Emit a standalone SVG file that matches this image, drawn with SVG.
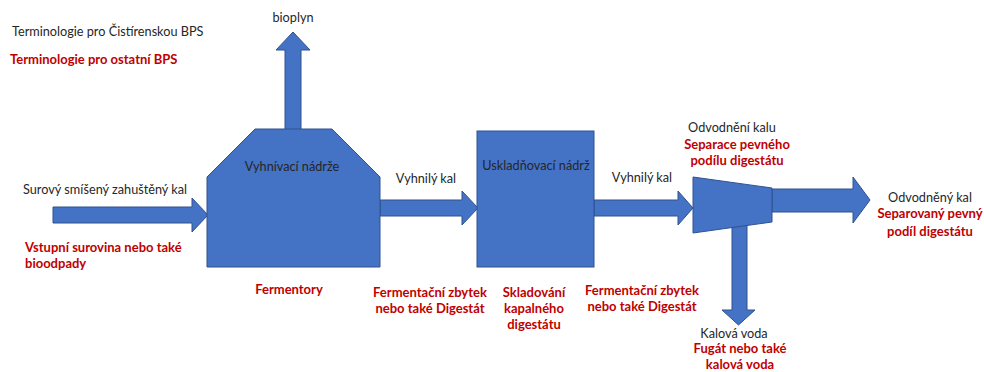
<svg xmlns="http://www.w3.org/2000/svg" width="984" height="372" viewBox="0 0 984 372">
<style>
.shape{fill:#4472C4;stroke:#2F528F;stroke-width:1}
.t{font-family:Lato,"Liberation Sans",sans-serif;font-size:12.7px;fill:#262626}
.r{font-family:Lato,"Liberation Sans",sans-serif;font-size:13px;font-weight:bold;fill:#C00000}
.m{text-anchor:middle}
</style>
<rect width="984" height="372" fill="#ffffff"/>
<g id="legend">
<text class="t" x="12" y="36">Terminologie pro Čistírenskou BPS</text>
<text class="r" x="10" y="64">Terminologie pro ostatní BPS</text>
</g>
<g id="connectors">
<g id="arrow-biogas">
<polygon class="shape" points="285,131 285,50 276,50 293,32 310,50 301,50 301,131"/>
<text class="t m" x="293" y="22">bioplyn</text>
</g>
<g id="arrow-input">
<polygon class="shape" points="53,207 192,207 192,198 208,215 192,232 192,223 53,223"/>
<text class="t" x="23" y="194">Surový smíšený zahuštěný kal</text>
<text class="r" x="25" y="252">Vstupní surovina nebo také</text>
<text class="r" x="25" y="268">bioodpady</text>
</g>
<g id="arrow-digested1">
<polygon class="shape" points="380,200 462,200 462,191 478,208 462,225 462,216 380,216"/>
<text class="t m" x="426" y="183">Vyhnilý kal</text>
<text class="r m" x="430" y="297">Fermentační zbytek</text>
<text class="r m" x="430" y="313">nebo také Digestát</text>
</g>
<g id="arrow-digested2">
<polygon class="shape" points="594,200 678,200 678,191 693,208 678,225 678,216 594,216"/>
<text class="t m" x="642" y="182">Vyhnilý kal</text>
<text class="r m" x="642" y="295">Fermentační zbytek</text>
<text class="r m" x="642" y="311">nebo také Digestát</text>
</g>
<g id="arrow-water">
<polygon class="shape" points="732,223 747,223 747,310 755,310 738.5,325 722,310 732,310"/>
<text class="t m" x="734" y="338">Kalová voda</text>
<text class="r m" x="740" y="353">Fugát nebo také</text>
<text class="r m" x="740" y="369">kalová voda</text>
</g>
<g id="arrow-output">
<polygon class="shape" points="772,189 853,189 853,177 870,200 853,223 853,212 772,212"/>
<text class="t m" x="930" y="202">Odvodněný kal</text>
<text class="r m" x="930" y="218">Separovaný pevný</text>
<text class="r m" x="930" y="236">podíl digestátu</text>
</g>
</g>
<g id="digester">
<polygon class="shape" points="255,129 332,129 380,177 380,267 207,267 207,177"/>
<text class="t m" x="292" y="171">Vyhnívací nádrže</text>
<text class="r m" x="289" y="294">Fermentory</text>
</g>
<g id="storage">
<rect class="shape" x="477" y="131" width="117" height="136"/>
<text class="t m" x="536" y="170">Uskladňovací nádrž</text>
<text class="r m" x="534" y="297">Skladování</text>
<text class="r m" x="534" y="313">kapalného</text>
<text class="r m" x="534" y="329">digestátu</text>
</g>
<g id="separator">
<polygon class="shape" points="693,177 772,188 772,222 693,233"/>
<text class="t m" x="732" y="132">Odvodnění kalu</text>
<text class="r m" x="737" y="149">Separace pevného</text>
<text class="r m" x="737" y="165">podílu digestátu</text>
</g>
</svg>
